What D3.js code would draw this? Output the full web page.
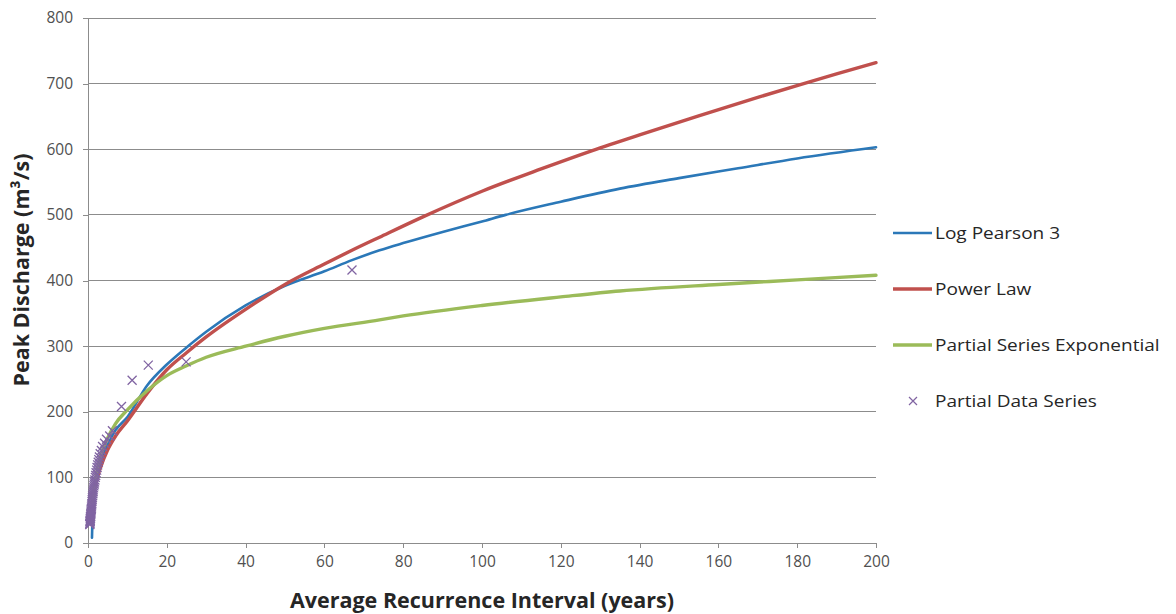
<!DOCTYPE html>
<html>
<head>
<meta charset="utf-8">
<script src="https://cdn.jsdelivr.net/npm/d3@7"></script>
<style>
  html, body { margin: 0; padding: 0; background: #ffffff; }
  svg { display: block; }
  text { font-family: "Open Sans", "Liberation Sans", sans-serif; }
</style>
</head>
<body>
<svg id="chart" width="1176" height="614"></svg>
<script>
// Recurrence interval (years) vs. peak discharge (m³/s)
const xTicks = [0, 20, 40, 60, 80, 100, 120, 140, 160, 180, 200];
const yTicks = [0, 100, 200, 300, 400, 500, 600, 700, 800];

// Log Pearson 3 fit
const lp3Years = [1.01, 1.1, 1.25, 1.5, 2, 3, 5, 7, 10, 15, 20, 25, 30, 40, 50, 60, 67, 74, 80, 90, 100, 106, 120, 135, 150, 165, 180, 200];
const lp3Q     = [8, 30, 50, 70, 95, 122, 150, 172, 192, 240, 272, 298, 322, 362, 392, 414, 431, 446, 457, 474, 490, 500, 520, 540, 556, 571, 586, 603];

// Power law fit
const powerYears = [1, 2, 3, 5, 7, 10, 15, 20, 25, 30, 40, 50, 60, 67, 74, 85, 100, 115, 128, 140, 155, 170, 181, 190, 200];
const powerQ     = [68, 92, 112, 142, 163, 186, 228, 264, 290, 314, 356, 394, 425, 446, 466, 497, 536, 570, 598, 622, 651, 679, 699, 715, 732];

// Partial series exponential fit
const expYears = [1, 2, 3, 5, 7, 10, 15, 20, 25, 30, 40, 50, 60, 74, 80, 100, 120, 135, 160, 180, 200];
const expQ     = [58, 100, 128, 160, 182, 203, 232, 255, 270, 283, 300, 315, 327, 340, 346, 362, 375, 384, 394, 401, 408];

// Partial duration data series
const dataYears = [67, 24.9, 15.3, 11.2, 8.5, 6.2, 5.5, 4.7, 4.2, 3.7, 3.4, 3.1,
  2.9, 2.75, 2.6, 2.45, 2.3, 2.2, 2.05, 1.95, 1.85, 1.75, 1.65, 1.58, 1.5, 1.42,
  1.35, 1.3, 1.24, 1.18, 1.12, 1.07, 1.02, 0.98, 0.94, 0.9, 0.86, 0.82, 0.79,
  0.76, 0.73, 0.7, 0.67, 0.64, 0.62, 0.6, 0.57, 0.55, 0.53, 0.51, 0.49, 0.47, 0.45];
const dataQ = [416, 276, 271, 248, 208, 171, 163, 158, 152, 147, 141, 136,
  131, 127, 123, 119, 115, 111, 107, 103, 100, 96, 93, 90, 87, 84,
  81, 78, 75, 72, 69, 66, 63, 60, 58, 55, 53, 51, 49,
  47, 45, 43, 41, 40, 38, 37, 35, 34, 33, 32, 30, 29, 28];

const seriesNames = ["Log Pearson 3", "Power Law", "Partial Series Exponential", "Partial Data Series"];
const colors = { lp3: "#2b78b8", power: "#c0504d", exp: "#9bbb59", data: "#8064a2" };

const svg = d3.select("#chart");
const margin = { left: 88, right: 300, top: 18, bottom: 71 };
const W = 1176, H = 614;

const x = d3.scaleLinear().domain([0, 200]).range([margin.left, W - margin.right]);
const y = d3.scaleLinear().domain([0, 800]).range([H - margin.bottom, margin.top]);

// Horizontal gridlines
svg.append("g")
  .selectAll("line")
  .data(yTicks.filter(d => d > 0))
  .join("line")
  .attr("x1", x(0)).attr("x2", x(200))
  .attr("y1", d => y(d)).attr("y2", d => y(d))
  .attr("stroke", "#8c8c8c").attr("stroke-width", 1)
  .attr("shape-rendering", "crispEdges");

// Axes
const yAxis = d3.axisLeft(y).tickValues(yTicks).tickSize(5).tickPadding(10);
const xAxis = d3.axisBottom(x).tickValues(xTicks).tickSize(5).tickPadding(8);

const gy = svg.append("g").attr("transform", `translate(${x(0)},0)`).call(yAxis);
const gx = svg.append("g").attr("transform", `translate(0,${y(0)})`).call(xAxis);

[gx, gy].forEach(g => {
  g.select(".domain").attr("stroke", "#8c8c8c").attr("shape-rendering", "crispEdges");
  g.selectAll(".tick line").attr("stroke", "#8c8c8c").attr("shape-rendering", "crispEdges");
  g.selectAll(".tick text")
    .attr("fill", "#505050")
    .style("font-family", "'Open Sans', sans-serif")
    .style("font-size", "15.5px");
});
gx.select(".domain").attr("d", `M${x(0)},0H${x(200)}`);
gy.select(".domain").attr("d", `M0,${y(0)}V${y(800)}`);

// Axis titles
svg.append("text")
  .attr("x", (x(0) + x(200)) / 2).attr("y", 608)
  .attr("text-anchor", "middle")
  .attr("fill", "#262626")
  .style("font-size", "21.5px").style("font-weight", "bold")
  .text("Average Recurrence Interval (years)");

svg.append("text")
  .attr("transform", `translate(29,${270}) rotate(-90)`)
  .attr("text-anchor", "middle")
  .attr("fill", "#262626")
  .style("font-size", "21.5px").style("font-weight", "bold")
  .text("Peak Discharge (m³/s)");

// Fitted curves
const line = d3.line()
  .x(d => x(d[0]))
  .y(d => y(d[1]))
  .curve(d3.curveMonotoneX);

const plot = svg.append("g");
plot.append("path")
  .datum(d3.zip(lp3Years, lp3Q))
  .attr("d", line).attr("fill", "none")
  .attr("stroke", colors.lp3).attr("stroke-width", 2.6)
  .attr("stroke-linejoin", "round").attr("stroke-linecap", "round");

plot.append("path")
  .datum(d3.zip(powerYears, powerQ))
  .attr("d", line).attr("fill", "none")
  .attr("stroke", colors.power).attr("stroke-width", 3.4)
  .attr("stroke-linejoin", "round").attr("stroke-linecap", "round");

plot.append("path")
  .datum(d3.zip(expYears, expQ))
  .attr("d", line).attr("fill", "none")
  .attr("stroke", colors.exp).attr("stroke-width", 3.4)
  .attr("stroke-linejoin", "round").attr("stroke-linecap", "round");

// Data points as crosses
const s = 4.5;
const cross = `M${-s},${-s}L${s},${s}M${-s},${s}L${s},${-s}`;
plot.append("g")
  .selectAll("path")
  .data(d3.zip(dataYears, dataQ))
  .join("path")
  .attr("transform", d => `translate(${x(d[0])},${y(d[1])})`)
  .attr("d", cross)
  .attr("stroke", colors.data).attr("stroke-width", 1.3).attr("fill", "none");

// Legend
const legend = svg.append("g").attr("transform", "translate(893,0)");
const legendRows = [
  { name: seriesNames[0], color: colors.lp3, w: 2.6, y: 233 },
  { name: seriesNames[1], color: colors.power, w: 3.4, y: 289 },
  { name: seriesNames[2], color: colors.exp, w: 3.4, y: 345 },
  { name: seriesNames[3], color: colors.data, y: 401, marker: true }
];
legendRows.forEach(r => {
  if (r.marker) {
    const m = 4;
    legend.append("path")
      .attr("transform", `translate(20,${r.y})`)
      .attr("d", `M${-m},${-m}L${m},${m}M${-m},${m}L${m},${-m}`)
      .attr("stroke", r.color).attr("stroke-width", 1.2).attr("fill", "none");
  } else {
    legend.append("line")
      .attr("x1", 0).attr("x2", 39)
      .attr("y1", r.y).attr("y2", r.y)
      .attr("stroke", r.color).attr("stroke-width", r.w);
  }
  legend.append("text")
    .attr("transform", `translate(42,${r.y}) scale(1.12,1)`)
    .attr("dy", "0.35em")
    .attr("fill", "#262626")
    .style("font-size", "17px")
    .text(r.name);
});
</script>
</body>
</html>
